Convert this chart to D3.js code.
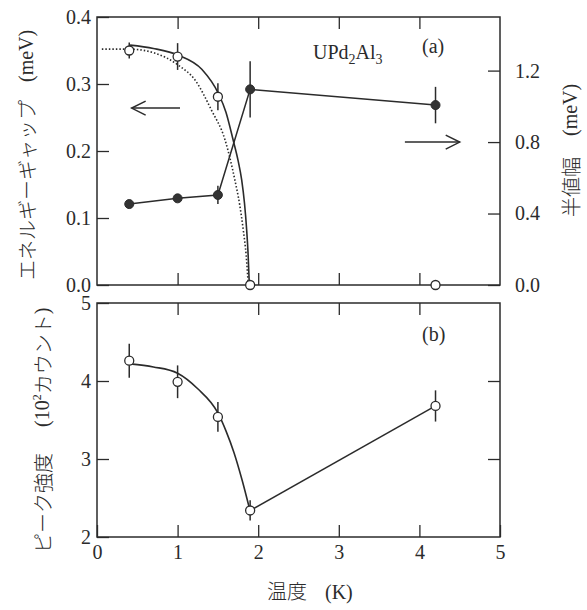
<!DOCTYPE html>
<html>
<head>
<meta charset="utf-8">
<script src="https://cdn.jsdelivr.net/npm/d3@7"></script>
<style>
  body { margin: 0; background: #fff; }
  svg { display: block; }
</style>
</head>
<body>
<div id="container"></div>
<script>
// UPd2Al3 : gap, width and peak intensity vs temperature

const width = 587;
const height = 610;
const ink = "#2b2b2b";
const serif = "Liberation Serif, DejaVu Serif, serif";
const jp = "Noto Sans CJK JP, Noto Sans, sans-serif";

// (a) energy gap, open circles (left axis, meV)
const gapT   = [0.4, 1.0, 1.5, 1.9, 4.2];
const gapV   = [0.35, 0.341, 0.281, 0.0, 0.0];
const gapErr = [0.012, 0.02, 0.02, 0, 0];

// solid curve through the gap points
const gapFitT = [0.41, 0.7, 1.01, 1.3, 1.505, 1.6, 1.69, 1.75, 1.795, 1.83, 1.857, 1.875, 1.89];
const gapFitV = [0.358, 0.353, 0.343, 0.322, 0.286, 0.258, 0.216, 0.186, 0.157, 0.122, 0.082, 0.045, 0.0];

// dotted curve
const gapDotT = [0.06, 0.41, 0.72, 1.01, 1.216, 1.42, 1.59, 1.71, 1.77, 1.815, 1.85, 1.877];
const gapDotV = [0.352, 0.352, 0.346, 0.328, 0.306, 0.261, 0.216, 0.157, 0.12, 0.082, 0.045, 0.0];

// (a) half width, filled circles (right axis, meV)
const fwT   = [0.4, 1.0, 1.5, 1.9, 4.2];
const fwV   = [0.453, 0.485, 0.504, 1.095, 1.007];
const fwErr = [0, 0, 0.051, 0.158, 0.102];

// (b) peak intensity (10^2 counts)
const pkT   = [0.4, 1.0, 1.5, 1.9, 4.2];
const pkV   = [4.26, 3.99, 3.54, 2.34, 3.68];
const pkErr = [0.218, 0.21, 0.19, 0.13, 0.2];

// curve through the intensity points
const pkFitT = [0.41, 0.7, 1.0, 1.25, 1.5, 1.6, 1.7, 1.8, 1.9];
const pkFitV = [4.22, 4.18, 4.1, 3.9, 3.59, 3.36, 3.08, 2.73, 2.33];

const gapTicks = [0, 0.1, 0.2, 0.3, 0.4];
const fwTicks  = [0, 0.4, 0.8, 1.2];
const pkTicks  = [2, 3, 4, 5];
const tTicks   = [0, 1, 2, 3, 4, 5];

const x    = d3.scaleLinear().domain([0, 5]).range([97, 500]);
const yGap = d3.scaleLinear().domain([0, 0.4]).range([285, 17]);
const yFw  = d3.scaleLinear().domain([0, 1.5]).range([285, 17]);
const yPk  = d3.scaleLinear().domain([2, 5]).range([537, 303]);

const svg = d3.select("#container").append("svg")
  .attr("width", width)
  .attr("height", height)
  .style("background", "#fff");

// axes helper: ticks point inwards
function styleAxis(g) {
  g.attr("font-family", serif).attr("font-size", 20);
  g.select(".domain").remove();
  g.selectAll("line").attr("stroke", ink).attr("stroke-width", 1.3);
  g.selectAll("text").attr("fill", ink);
}

function frame(yScale) {
  const r = yScale.range();
  svg.append("rect")
    .attr("x", x(0)).attr("y", r[1])
    .attr("width", x(5) - x(0)).attr("height", r[0] - r[1])
    .attr("fill", "none").attr("stroke", ink).attr("stroke-width", 1.5);
}

// ---- panel (a)
svg.append("g").attr("transform", `translate(${x(0)},0)`)
  .call(d3.axisLeft(yGap).tickValues(gapTicks).tickSize(-12).tickPadding(6).tickFormat(d3.format(".1f")))
  .call(styleAxis);
svg.append("g").attr("transform", `translate(${x(5)},0)`)
  .call(d3.axisRight(yFw).tickValues(fwTicks).tickSize(-12).tickPadding(15).tickFormat(d3.format(".1f")))
  .call(styleAxis);
svg.append("g").attr("transform", `translate(0,${yGap(0.4)})`)
  .call(d3.axisTop(x).tickValues([1, 2, 3, 4]).tickSize(-12).tickFormat(""))
  .call(styleAxis);
svg.append("g").attr("transform", `translate(0,${yGap(0)})`)
  .call(d3.axisBottom(x).tickValues([1, 2, 3, 4]).tickSize(-12).tickFormat(""))
  .call(styleAxis);
frame(yGap);

const gapFit = gapFitT.map((t, i) => [t, gapFitV[i]]);
const gapDot = gapDotT.map((t, i) => [t, gapDotV[i]]);
const lineGap = d3.line().x(d => x(d[0])).y(d => yGap(d[1])).curve(d3.curveMonotoneX);

svg.append("path").datum(gapDot)
  .attr("d", lineGap)
  .attr("fill", "none").attr("stroke", ink)
  .attr("stroke-width", 1.6).attr("stroke-dasharray", "1.5,2");

svg.append("path").datum(gapFit)
  .attr("d", lineGap)
  .attr("fill", "none").attr("stroke", ink).attr("stroke-width", 1.6);

const fw = fwT.map((t, i) => ({ t: t, v: fwV[i], e: fwErr[i] }));
svg.append("path").datum(fw)
  .attr("d", d3.line().x(d => x(d.t)).y(d => yFw(d.v)))
  .attr("fill", "none").attr("stroke", ink).attr("stroke-width", 1.5);

svg.append("g").selectAll("line").data(fw.filter(d => d.e > 0)).join("line")
  .attr("x1", d => x(d.t)).attr("x2", d => x(d.t))
  .attr("y1", d => yFw(d.v - d.e)).attr("y2", d => yFw(d.v + d.e))
  .attr("stroke", ink).attr("stroke-width", 1.5);

svg.append("g").selectAll("circle").data(fw).join("circle")
  .attr("cx", d => x(d.t)).attr("cy", d => yFw(d.v)).attr("r", 4.5)
  .attr("fill", "#333").attr("stroke", ink).attr("stroke-width", 1);

const gap = gapT.map((t, i) => ({ t: t, v: gapV[i], e: gapErr[i] }));
svg.append("g").selectAll("line").data(gap.filter(d => d.e > 0)).join("line")
  .attr("x1", d => x(d.t)).attr("x2", d => x(d.t))
  .attr("y1", d => yGap(d.v - d.e)).attr("y2", d => yGap(d.v + d.e))
  .attr("stroke", ink).attr("stroke-width", 1.5);

svg.append("g").selectAll("circle").data(gap).join("circle")
  .attr("cx", d => x(d.t)).attr("cy", d => yGap(d.v)).attr("r", 4.5)
  .attr("fill", "#fff").attr("stroke", ink).attr("stroke-width", 1.3);

// arrows
function arrow(x1, x2, yy) {
  const dir = x2 > x1 ? 1 : -1;
  svg.append("line")
    .attr("x1", x1).attr("x2", x2).attr("y1", yy).attr("y2", yy)
    .attr("stroke", ink).attr("stroke-width", 1.5);
  svg.append("path")
    .attr("d", `M${x2 - dir * 14},${yy - 7}L${x2},${yy}L${x2 - dir * 14},${yy + 7}`)
    .attr("fill", "none").attr("stroke", ink).attr("stroke-width", 1.5);
}
arrow(x(1.03), x(0.43), yGap(0.264));
arrow(x(3.82), x(4.5), yFw(0.8));

const uLabel = svg.append("text")
  .attr("x", 313).attr("y", 59)
  .attr("fill", ink)
  .attr("font-family", serif).attr("font-size", 20);
uLabel.append("tspan").text("UPd");
uLabel.append("tspan").attr("dy", 5).attr("font-size", 14).text("2");
uLabel.append("tspan").attr("dy", -5).text("Al");
uLabel.append("tspan").attr("dy", 5).attr("font-size", 14).text("3");

svg.append("text").attr("x", 422).attr("y", 53)
  .attr("fill", ink).attr("font-family", serif).attr("font-size", 20)
  .text("(a)");

// ---- panel (b)
svg.append("g").attr("transform", `translate(${x(0)},0)`)
  .call(d3.axisLeft(yPk).tickValues(pkTicks).tickSize(-12).tickPadding(6).tickFormat(d3.format("d")))
  .call(styleAxis);
svg.append("g").attr("transform", `translate(${x(5)},0)`)
  .call(d3.axisRight(yPk).tickValues([3, 4]).tickSize(-12).tickFormat(""))
  .call(styleAxis);
svg.append("g").attr("transform", `translate(0,${yPk(5)})`)
  .call(d3.axisTop(x).tickValues([1, 2, 3, 4]).tickSize(-12).tickFormat(""))
  .call(styleAxis);
svg.append("g").attr("transform", `translate(0,${yPk(2)})`)
  .call(d3.axisBottom(x).tickValues(tTicks).tickSize(-12).tickPadding(8).tickFormat(d3.format("d")))
  .call(styleAxis);
frame(yPk);

const pkFit = pkFitT.map((t, i) => [t, pkFitV[i]]);
svg.append("path").datum(pkFit)
  .attr("d", d3.line().x(d => x(d[0])).y(d => yPk(d[1])).curve(d3.curveMonotoneX))
  .attr("fill", "none").attr("stroke", ink).attr("stroke-width", 1.6);

const pk = pkT.map((t, i) => ({ t: t, v: pkV[i], e: pkErr[i] }));
svg.append("path").datum(pk.slice(3))
  .attr("d", d3.line().x(d => x(d.t)).y(d => yPk(d.v)))
  .attr("fill", "none").attr("stroke", ink).attr("stroke-width", 1.5);

svg.append("g").selectAll("line").data(pk).join("line")
  .attr("x1", d => x(d.t)).attr("x2", d => x(d.t))
  .attr("y1", d => yPk(d.v - d.e)).attr("y2", d => yPk(d.v + d.e))
  .attr("stroke", ink).attr("stroke-width", 1.5);

svg.append("g").selectAll("circle").data(pk).join("circle")
  .attr("cx", d => x(d.t)).attr("cy", d => yPk(d.v)).attr("r", 4.5)
  .attr("fill", "#fff").attr("stroke", ink).attr("stroke-width", 1.3);

svg.append("text").attr("x", 422).attr("y", 341)
  .attr("fill", ink).attr("font-family", serif).attr("font-size", 20)
  .text("(b)");

// ---- axis titles (rotated)
function vLabel(cx, yStart, parts) {
  const t = svg.append("text")
    .attr("transform", `translate(${cx},${yStart}) rotate(-90)`)
    .attr("dominant-baseline", "central")
    .attr("fill", ink)
    .attr("font-size", 20)
    .attr("font-weight", 300);
  parts.forEach(p => {
    const s = t.append("tspan").attr("font-family", p.serif ? serif : jp).text(p.text);
    if (p.dx) s.attr("dx", p.dx);
    if (p.sup) s.attr("font-size", 12).attr("baseline-shift", "45%");
  });
}

vLabel(26, 280, [
  { text: "エネルギーギャップ" },
  { text: "(meV)", serif: true, dx: 18 }
]);
vLabel(570, 217, [
  { text: "半値幅" },
  { text: "(meV)", serif: true, dx: 21 }
]);
vLabel(42, 553, [
  { text: "ピーク強度" },
  { text: "(10", serif: true, dx: 26 },
  { text: "2", serif: true, sup: true },
  { text: "カウント" },
  { text: ")", serif: true }
]);

const xt = svg.append("text").attr("x", 267).attr("y", 599)
  .attr("fill", ink).attr("font-size", 20).attr("font-weight", 300);
xt.append("tspan").attr("font-family", jp).text("温度");
xt.append("tspan").attr("dx", 18).attr("font-family", serif).text("(K)");
</script>
</body>
</html>
